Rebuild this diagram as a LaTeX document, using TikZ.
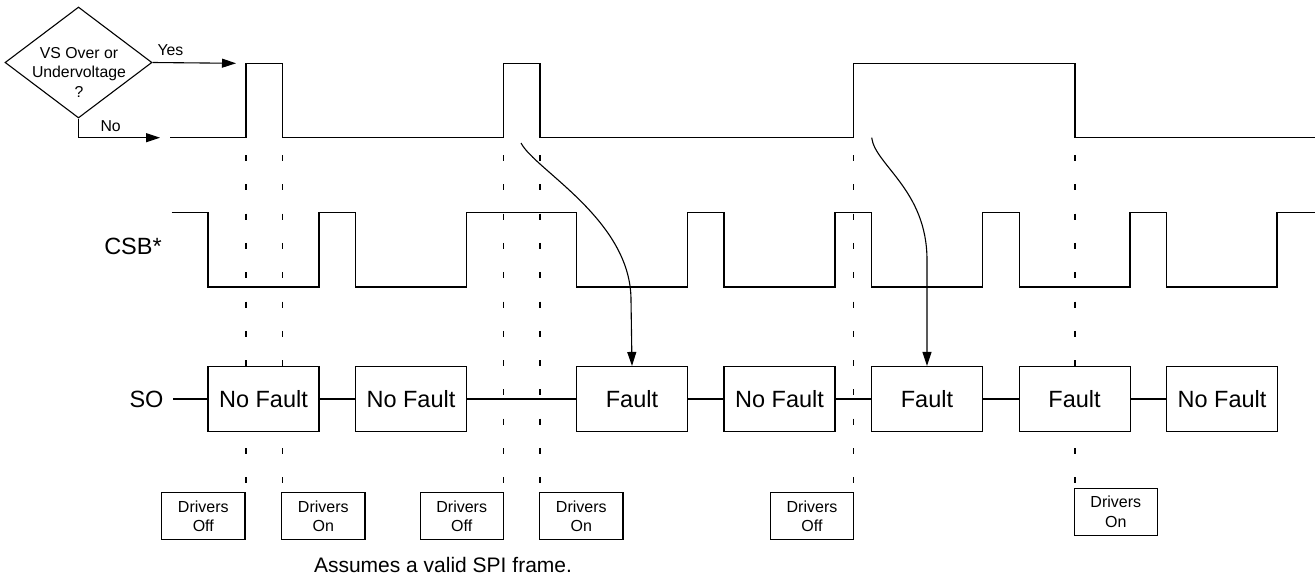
\documentclass[tikz,border=0pt]{standalone}
\usepackage{fontspec}
\setmainfont{Liberation Sans}
\usetikzlibrary{arrows.meta,shapes.geometric}
\begin{document}
\begin{tikzpicture}[x=1pt,y=-1pt,line width=1.1pt,
  wave/.style={line width=1.2pt},
  guide/.style={line width=1.1pt,dash pattern=on 6pt off 23.3pt},
  sobox/.style={draw,fill=white,minimum width=111pt,minimum height=65pt,inner sep=0pt,font=\fontsize{23.5}{28}\selectfont},
  drvbox/.style={draw,fill=white,minimum width=83.3pt,minimum height=46.7pt,inner sep=0pt,align=center,font=\fontsize{16}{19.3}\selectfont},
  lbl/.style={inner sep=0pt,font=\fontsize{23.5}{28}\selectfont},
  small/.style={inner sep=0pt,align=center,font=\fontsize{15.8}{19.5}\selectfont},
  tip/.style={-{Triangle[length=14pt,width=9pt]}}]
\useasboundingbox (0,0) rectangle (1315,578);

% decision diamond
\node[draw,diamond,minimum width=147pt,minimum height=111pt,inner sep=0pt] (dia) at (78.5,62.5) {};
\node[small] (diatext) at (79,72) {VS Over or\\Undervoltage\\?};
\coordinate (yesend) at (236,63.3);
\coordinate (noend) at (160,137.7);
\draw[tip] (dia.east) -- (yesend);
\draw[tip] (dia.south) |- (noend);
\node[small,anchor=west] (yes) at (157,50) {Yes};
\node[small,anchor=west] (no) at (100,126) {No};

% guide lines
\foreach \gx in {246,282.5,503.3,540,853.3,1075}
  \draw[guide] (\gx,155) -- (\gx,483);

% VS waveform
\draw[wave] (170,137.7) -- (246,137.7) -- (246,63.3) -- (282.5,63.3) -- (282.5,137.7)
  -- (503.3,137.7) -- (503.3,63.3) -- (540,63.3) -- (540,137.7)
  -- (853.3,137.7) -- (853.3,63.3) -- (1075,63.3) -- (1075,137.7) -- (1315,137.7);

% CSB waveform
\node[lbl] (csb) at (133,246) {CSB*};
\draw[wave] (171.7,212.3) -- (208,212.3) -- (208,287) -- (319,287) -- (319,212.3)
  -- (355.5,212.3) -- (355.5,287) -- (466.5,287) -- (466.5,212.3)
  -- (576.7,212.3) -- (576.7,287) -- (687.3,287) -- (687.3,212.3)
  -- (724,212.3) -- (724,287) -- (835,287) -- (835,212.3)
  -- (871.7,212.3) -- (871.7,287) -- (982.3,287) -- (982.3,212.3)
  -- (1019.3,212.3) -- (1019.3,287) -- (1130,287) -- (1130,212.3)
  -- (1166.7,212.3) -- (1166.7,287) -- (1277,287) -- (1277,212.3) -- (1315,212.3);

% SO row
\node[lbl] (so) at (146.5,399) {SO};
\node[sobox] (b1) at (263.5,399) {No Fault};
\node[sobox] (b2) at (411,399) {No Fault};
\node[sobox] (b3) at (632,399) {Fault};
\node[sobox] (b4) at (779.5,399) {No Fault};
\node[sobox] (b5) at (927,399) {Fault};
\node[sobox] (b6) at (1074.6,399) {Fault};
\node[sobox] (b7) at (1222,399) {No Fault};
\draw (so.east) ++(9pt,0) -- (b1.west);
\draw (b1) -- (b2);
\draw (b2) -- (b3);
\draw (b3) -- (b4);
\draw (b4) -- (b5);
\draw (b5) -- (b6);
\draw (b6) -- (b7);

% fault arrows
\coordinate (f1) at (521,143);
\coordinate (f2) at (871.7,137.7);
\draw[tip] (f1) .. controls (535,170) and (631,220) .. (631,300) -- (b3.north);
\draw[tip] (f2) .. controls (875,165) and (927,190) .. (927,260) -- (b5.north);

% drivers boxes
\node[drvbox] (d1) at (203.3,516) {Drivers\\Off};
\node[drvbox] (d2) at (323.3,516) {Drivers\\On};
\node[drvbox] (d3) at (461.7,516) {Drivers\\Off};
\node[drvbox] (d4) at (581.3,516) {Drivers\\On};
\node[drvbox] (d5) at (812,516) {Drivers\\Off};
\node[drvbox] (d6) at (1115.8,511.7) {Drivers\\On};

\node[inner sep=0pt,font=\fontsize{21}{25}\selectfont] (note) at (443,565) {Assumes a valid SPI frame.};
\end{tikzpicture}
\end{document}
